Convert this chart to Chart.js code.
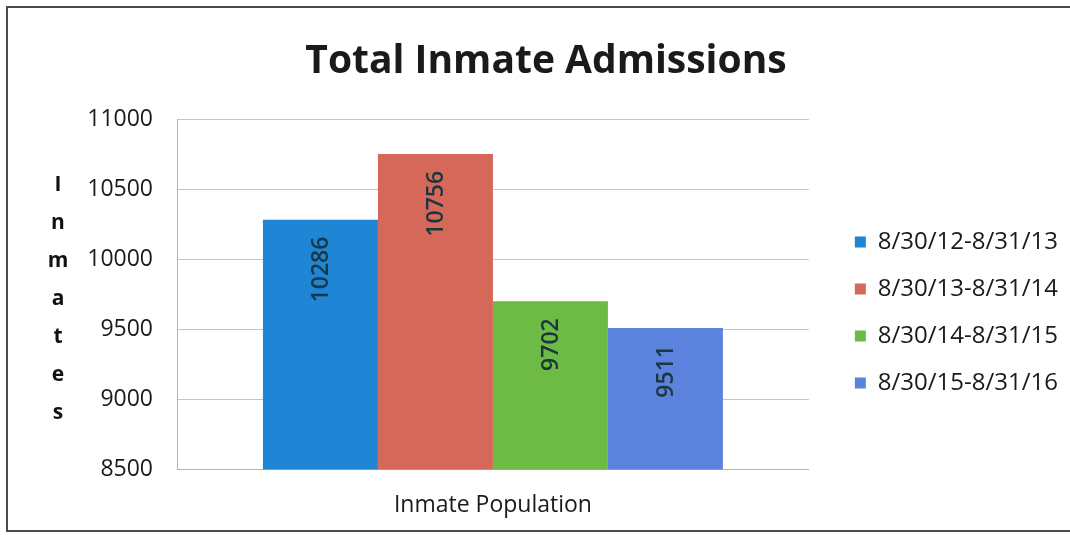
<!DOCTYPE html>
<html>
<head>
<meta charset="utf-8">
<script src="https://cdn.jsdelivr.net/npm/chart.js@4/dist/chart.umd.min.js"></script>
<style>
  html, body { margin: 0; padding: 0; background: #fff; }
  #wrap { position: relative; width: 1070px; height: 536px; overflow: hidden; }
  #frame { position: absolute; left: 6px; top: 6px; width: 1080px; height: 526px; border: 2px solid #4a4a4a; box-sizing: border-box; pointer-events: none; }
  canvas { position: absolute; left: 0; top: 0; }
</style>
</head>
<body>
<div id="wrap">
  <canvas id="c" width="1070" height="536"></canvas>
  <div id="frame"></div>
</div>
<script>
const titleText = 'Total Inmate Admissions';
const categories = ['Inmate Population'];
const seriesNames = ['8/30/12-8/31/13', '8/30/13-8/31/14', '8/30/14-8/31/15', '8/30/15-8/31/16'];
const seriesValues = [10286, 10756, 9702, 9511];
const seriesColors = ['#1f86d6', '#d6685a', '#6dbb45', '#5b82dc'];
const yAxisTitle = 'Inmates';
const yMin = 8500, yMax = 11000, yStep = 500;

const FONT = "'Open Sans', 'DejaVu Sans', sans-serif";

const datasets = seriesNames.map((name, i) => ({
  label: name,
  data: [seriesValues[i]],
  backgroundColor: seriesColors[i],
  borderWidth: 0
}));

const barLabels = {
  id: 'barLabels',
  afterDatasetsDraw(chart) {
    const ctx = chart.ctx;
    ctx.save();
    ctx.font = "600 23px " + FONT;
    ctx.fillStyle = '#1c3640';
    ctx.textAlign = 'right';
    ctx.textBaseline = 'middle';
    chart.data.datasets.forEach((ds, i) => {
      const meta = chart.getDatasetMeta(i);
      meta.data.forEach((bar, j) => {
        ctx.save();
        ctx.translate(bar.x + 1, bar.y + 17);
        ctx.rotate(-Math.PI / 2);
        ctx.fillText(String(ds.data[j]), 0, 0);
        ctx.restore();
      });
    });
    ctx.restore();
  }
};

const stackedAxisTitle = {
  id: 'stackedAxisTitle',
  afterDraw(chart) {
    const ctx = chart.ctx;
    const a = chart.chartArea;
    const letters = yAxisTitle.split('');
    const gap = 38;
    const cy = (a.top + a.bottom) / 2 + 4;
    const start = cy - gap * (letters.length - 1) / 2;
    ctx.save();
    ctx.font = "bold 21px " + FONT;
    ctx.fillStyle = '#111';
    ctx.textAlign = 'center';
    ctx.textBaseline = 'middle';
    letters.forEach((ch, k) => ctx.fillText(ch, 58, start + k * gap));
    ctx.restore();
  }
};

// nudge legend/title boxes after the library's layout
const layoutNudge = {
  id: 'layoutNudge',
  afterLayout(chart) {
    const lg = chart.legend;
    const pad = lg.options.labels.padding;
    const dx = chart.chartArea.right + 46 - pad - lg.left;
    lg.left += dx; lg.right += dx;
    lg.top += 18; lg.bottom += 18;
    const t = chart.titleBlock;
    const tx = 546 - (t.left + t.right) / 2;
    t.left += tx; t.right += tx;
  }
};

new Chart(document.getElementById('c'), {
  type: 'bar',
  data: { labels: categories, datasets },
  options: {
    responsive: false,
    animation: false,
    devicePixelRatio: 1,
    layout: { padding: { left: 0, right: 25, top: 0, bottom: -5 } },
    datasets: { bar: { categoryPercentage: 0.728, barPercentage: 1.0 } },
    plugins: {
      title: {
        display: true,
        text: titleText,
        color: '#1a1a1a',
        font: { family: FONT, size: 39, weight: 'bold' },
        padding: { top: 38, bottom: 35 }
      },
      legend: {
        position: 'right',
        fullSize: false,
        labels: {
          boxWidth: 11,
          boxHeight: 11,
          padding: 23,
          color: '#1a1a1a',
          font: { family: FONT, size: 24 }
        }
      },
      tooltip: { enabled: false }
    },
    scales: {
      x: {
        grid: { display: false, drawTicks: false },
        border: { display: true, color: '#b4b4b4' },
        ticks: { color: '#1a1a1a', padding: 22, font: { family: FONT, size: 23 } }
      },
      y: {
        min: yMin, max: yMax,
        afterFit(s) { s.width = 177; },
        grid: { color: '#c4c4c4', drawTicks: false },
        border: { display: true, color: '#b4b4b4' },
        ticks: { stepSize: yStep, color: '#1a1a1a', padding: 24, font: { family: FONT, size: 23 },
                 callback: (v) => String(v) }
      }
    }
  },
  plugins: [barLabels, stackedAxisTitle, layoutNudge]
});
</script>
</body>
</html>
